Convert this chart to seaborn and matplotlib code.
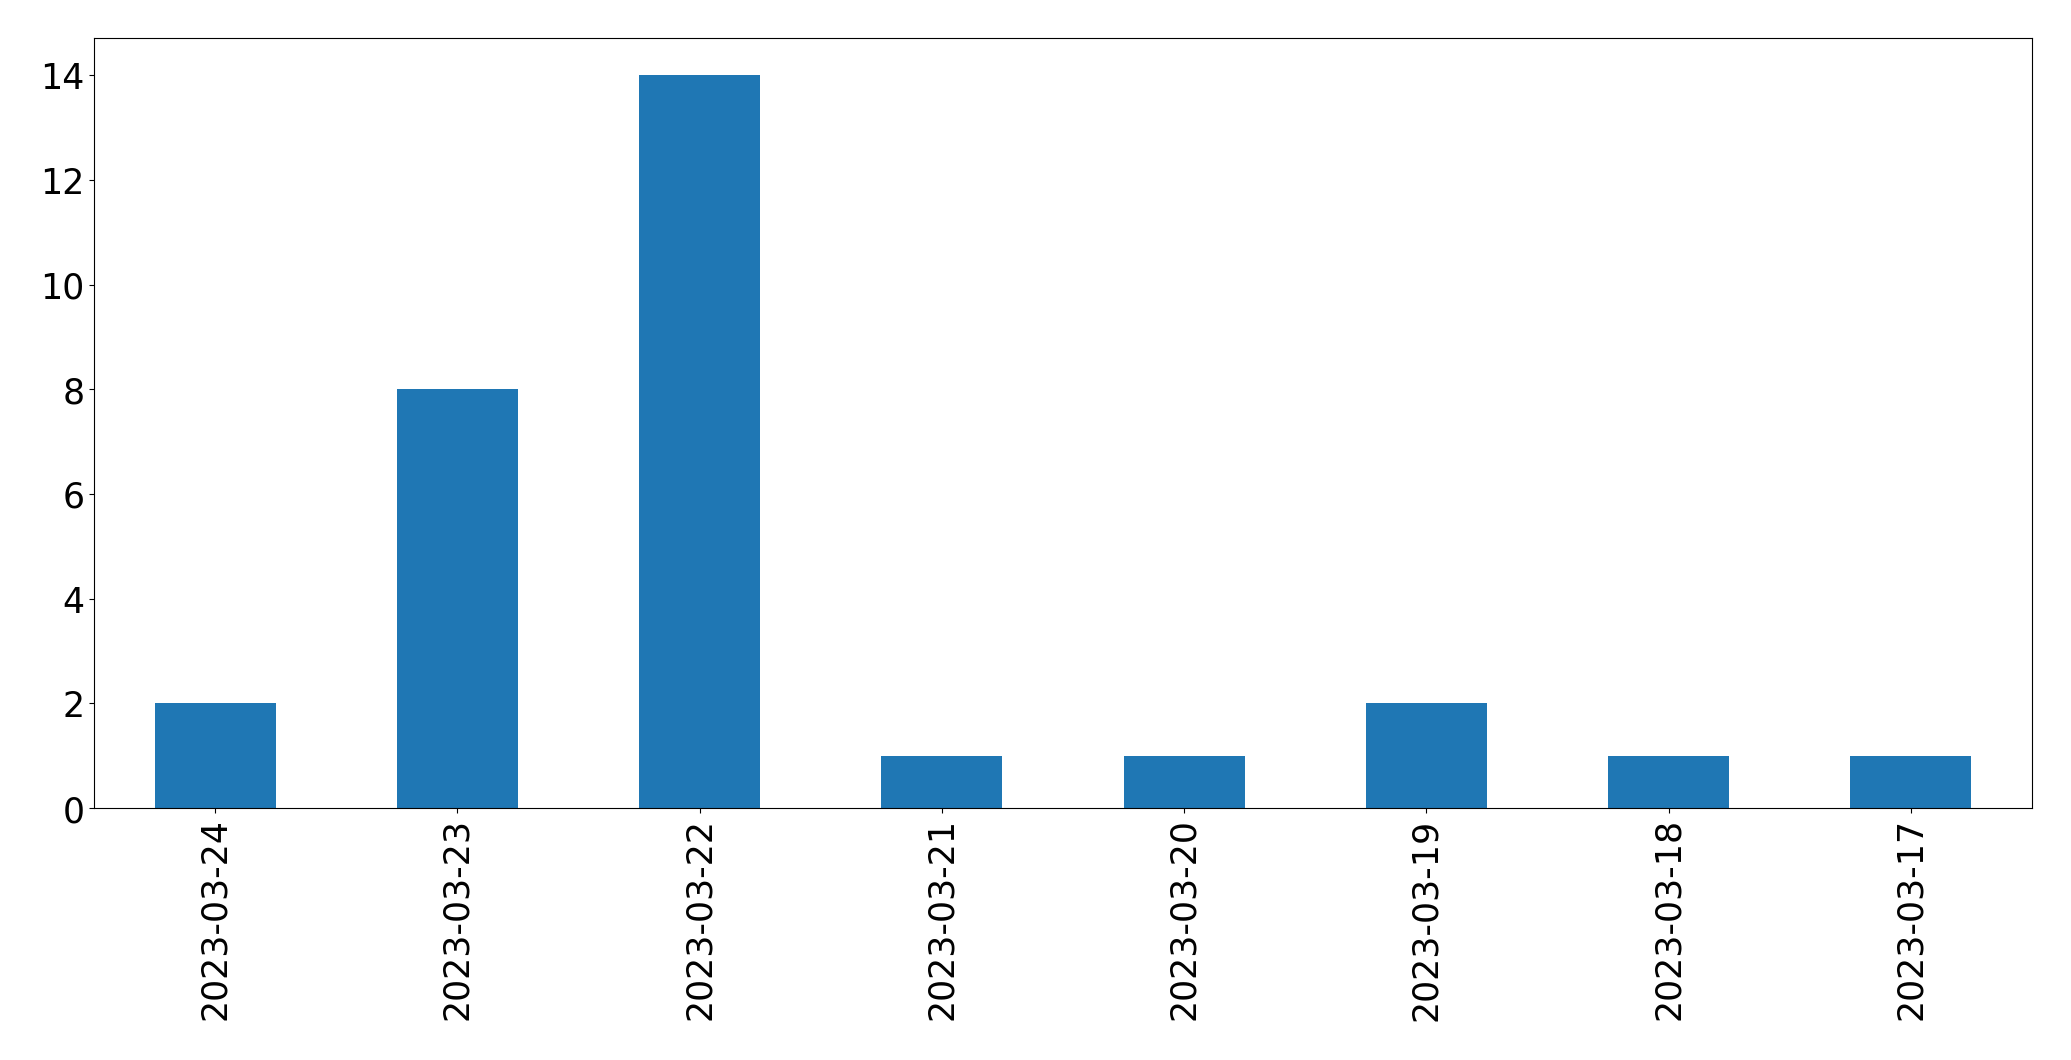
import matplotlib
matplotlib.use("Agg")
import matplotlib.pyplot as plt
import seaborn as sns
import pandas as pd

dates = ["2023-03-24", "2023-03-23", "2023-03-22", "2023-03-21",
         "2023-03-20", "2023-03-19", "2023-03-18", "2023-03-17"]
counts = [2, 8, 14, 1, 1, 2, 1, 1]

df = pd.DataFrame({"date": dates, "count": counts})

fig = plt.figure(figsize=(20.71, 10.605), dpi=100)
ax = fig.add_axes([94/2071, 1 - 809/1061, (2032-94)/2071, (809-39)/1061])
sns.barplot(data=df, x="date", y="count", order=dates, color="#1f77b4",
            saturation=1, width=0.5, linewidth=0, ax=ax)
ax.set_xlim(-0.5, len(dates) - 0.5)
ax.set_ylim(0, 14.7)
ax.set_xlabel("")
ax.set_ylabel("")
ax.tick_params(axis="both", labelsize=25)
plt.setp(ax.get_xticklabels(), rotation=90)
fig.savefig("out.png", dpi=100)
